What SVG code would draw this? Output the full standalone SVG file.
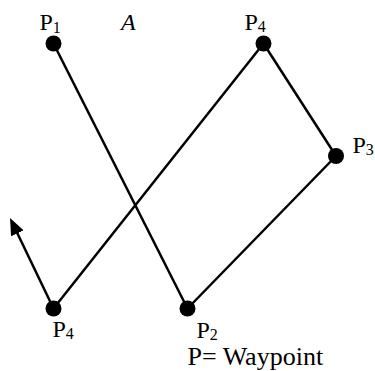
<svg xmlns="http://www.w3.org/2000/svg" width="375" height="371" viewBox="0 0 375 371">
  <style>
    .edge { stroke: #000; stroke-width: 2.5; fill: none; }
    .dot { fill: #000; }
    .lbl { font-family: "Liberation Serif", "Times New Roman", serif; font-size: 24px; fill: #000; }
    .sub { font-size: 16px; }
    .it { font-style: italic; }
    .note { font-family: "Liberation Serif", "Times New Roman", serif; font-size: 26px; fill: #000; }
  </style>
  <defs>
    <marker id="arrow" viewBox="0 0 17 14" refX="12" refY="7" markerWidth="17" markerHeight="14" markerUnits="userSpaceOnUse" orient="auto">
      <path d="M0,0 L17,7 L0,14 z" fill="#000"/>
    </marker>
  </defs>
  <g id="connectors">
    <line class="edge" x1="53.5" y1="43.5" x2="187.5" y2="308.5"/>
    <line class="edge" x1="187.5" y1="308.5" x2="336" y2="156"/>
    <line class="edge" x1="336" y1="156" x2="263.5" y2="43.5"/>
    <line class="edge" x1="263.5" y1="43.5" x2="53.5" y2="308.5"/>
    <line class="edge" x1="53.5" y1="308.5" x2="12.2" y2="222.5" marker-end="url(#arrow)"/>
  </g>
  <g id="P1">
    <circle class="dot" cx="53.5" cy="43.5" r="8"/>
    <text class="lbl" x="39.5" y="30">P<tspan class="sub" dy="3">1</tspan></text>
  </g>
  <g id="P4-top">
    <circle class="dot" cx="263.5" cy="43.5" r="8"/>
    <text class="lbl" x="244.5" y="30">P<tspan class="sub" dy="2">4</tspan></text>
  </g>
  <g id="P3">
    <circle class="dot" cx="336" cy="156" r="8"/>
    <text class="lbl" x="352.5" y="153">P<tspan class="sub" dy="2">3</tspan></text>
  </g>
  <g id="P2">
    <circle class="dot" cx="187.5" cy="308.5" r="8"/>
    <text class="lbl" x="196.5" y="338">P<tspan class="sub" dy="2">2</tspan></text>
  </g>
  <g id="P4-bottom">
    <circle class="dot" cx="53.5" cy="308.5" r="8"/>
    <text class="lbl" x="52.5" y="337">P<tspan class="sub" dy="2">4</tspan></text>
  </g>
  <g id="area-label">
    <text class="lbl it" x="121" y="30">A</text>
  </g>
  <g id="legend">
    <text class="note" x="187.5" y="365">P= Waypoint</text>
  </g>
</svg>
